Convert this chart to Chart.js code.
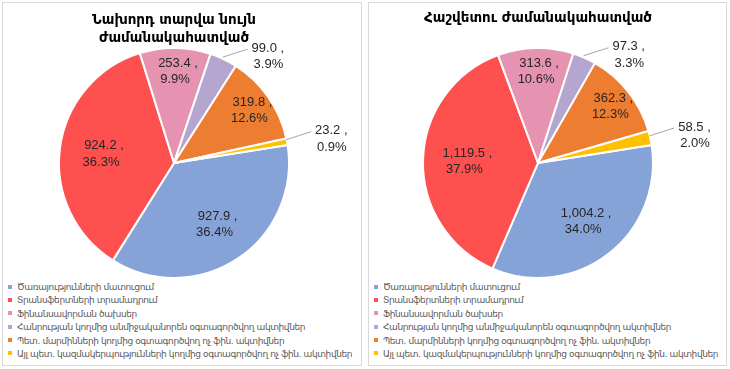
<!DOCTYPE html>
<html>
<head>
<meta charset="utf-8">
<script src="https://cdn.jsdelivr.net/npm/chart.js@4"></script>
<style>
    body { margin: 0; background: #fff; width: 730px; height: 369px; position: relative; overflow: hidden; }
    .box { position: absolute; top: 2px; height: 362px; border: 1px solid #d9d9d9; background: #fff; }
    #boxPrev { left: 2px; width: 358px; }
    #boxCur { left: 368px; width: 357px; }
    canvas { display: block; }
    ul.legenda { list-style: none; margin: 0; padding: 0 0 0 5px; font-family: "DejaVu Sans", sans-serif; font-size: 9px; letter-spacing: -0.4px; color: #595959; }
    ul.legenda li { height: 13.4px; line-height: 13.4px; white-space: nowrap; }
    ul.legenda span.m { display: inline-block; width: 4px; height: 4px; margin-right: 5px; vertical-align: middle; position: relative; top: -1px; }
</style>
</head>
<body>
<div class="box" id="boxPrev"><canvas id="chartPrev" width="358" height="278"></canvas><ul class="legenda" id="legPrev"></ul></div>
<div class="box" id="boxCur"><canvas id="chartCur" width="357" height="278"></canvas><ul class="legenda" id="legCur"></ul></div>
<script>
// categorias (ordem da legenda)
const categorias = [
    "Ծառայությունների մատուցում",
    "Տրանսֆերտների տրամադրում",
    "Ֆինանսավորման ծախսեր",
    "Հանրության կողմից անմիջականորեն օգտագործվող ակտիվներ",
    "Պետ. մարմինների կողմից օգտագործվող ոչ ֆին. ակտիվներ",
    "Այլ պետ. կազմակերպությունների կողմից օգտագործվող ոչ ֆին. ակտիվներ"
];
const valoresAnterior = [927.9, 924.2, 253.4, 99.0, 319.8, 23.2];
const valoresAtual = [1004.2, 1119.5, 313.6, 97.3, 362.3, 58.5];
const tituloAnterior = ["Նախորդ տարվա նույն", "ժամանակահատված"];
const tituloAtual = "Հաշվետու ժամանակահատված";
const cores = ["#86a3d8", "#ff5050", "#e693b2", "#b5a6cf", "#ed7d31", "#ffc000"];

function fmt(v) {
    return v.toLocaleString("en-US", { minimumFractionDigits: 1, maximumFractionDigits: 1 });
}

// rótulos "valor , / pct%" desenhados a partir dos arcos
const rotulos = {
    id: "rotulos",
    afterDatasetsDraw(chart) {
        const ctx = chart.ctx;
        const meta = chart.getDatasetMeta(0);
        const dados = chart.data.datasets[0].data;
        const total = dados.reduce((a, b) => a + b, 0);
        ctx.save();
        ctx.font = "13px 'Liberation Sans', Arial, sans-serif";
        ctx.fillStyle = "#262626";
        ctx.textBaseline = "middle";
        meta.data.forEach((arc, i) => {
            const p = arc.getProps(["x", "y", "startAngle", "endAngle", "outerRadius"], true);
            const meio = (p.startAngle + p.endAngle) / 2;
            const pct = dados[i] / total * 100;
            const l1 = fmt(dados[i]) + " ,";
            const l2 = pct.toFixed(1) + "%";
            if (pct < 5) {
                // fora da fatia, com linha guia
                const ex = p.x + Math.cos(meio) * p.outerRadius;
                const ey = p.y + Math.sin(meio) * p.outerRadius;
                const tx = ex + 28;
                const ty = ey - 3;
                ctx.strokeStyle = "#a6a6a6";
                ctx.lineWidth = 1;
                ctx.beginPath();
                ctx.moveTo(ex - 1, ey - 2);
                ctx.lineTo(tx - 4, ty - 7);
                ctx.stroke();
                ctx.textAlign = "left";
                ctx.fillText(l1, tx, ty - 8);
                ctx.fillText(l2, tx + 2, ty + 8.5);
            } else {
                const d = p.outerRadius * (pct > 25 ? 0.64 : 0.8);
                const cx = p.x + Math.cos(meio) * d;
                const cy = p.y + Math.sin(meio) * d;
                ctx.textAlign = "center";
                ctx.fillText(l1, cx + 3, cy - 8);
                ctx.fillText(l2, cx, cy + 8.5);
            }
        });
        ctx.restore();
    }
};

function criarPizza(id, legId, valores, titulo, padDir) {
    const chart = new Chart(document.getElementById(id), {
        type: "pie",
        data: {
            labels: categorias,
            datasets: [{
                data: valores,
                backgroundColor: cores,
                borderColor: "#ffffff",
                borderWidth: 2,
                radius: 115
            }]
        },
        options: {
            responsive: false,
            animation: false,
            rotation: 81,
            layout: { padding: { left: 0, right: padDir, top: 0, bottom: 4 } },
            plugins: {
                legend: { display: false },
                tooltip: { enabled: false },
                title: {
                    display: true,
                    text: titulo,
                    color: "#000",
                    font: { family: "'DejaVu Sans', sans-serif", size: 13.5, weight: "bold", lineHeight: 1.33 },
                    padding: Array.isArray(titulo) ? { top: 9, bottom: 1 } : { top: 7, bottom: 21 }
                }
            }
        },
        plugins: [rotulos]
    });

    // legenda em HTML, um item por linha
    const ul = document.getElementById(legId);
    chart.options.plugins.legend.labels.generateLabels(chart).forEach(item => {
        const li = document.createElement("li");
        const m = document.createElement("span");
        m.className = "m";
        m.style.background = item.fillStyle;
        li.appendChild(m);
        li.appendChild(document.createTextNode(item.text));
        ul.appendChild(li);
    });
}

criarPizza("chartPrev", "legPrev", valoresAnterior, tituloAnterior, 16);
criarPizza("chartCur", "legCur", valoresAtual, tituloAtual, 19);
</script>
</body>
</html>
